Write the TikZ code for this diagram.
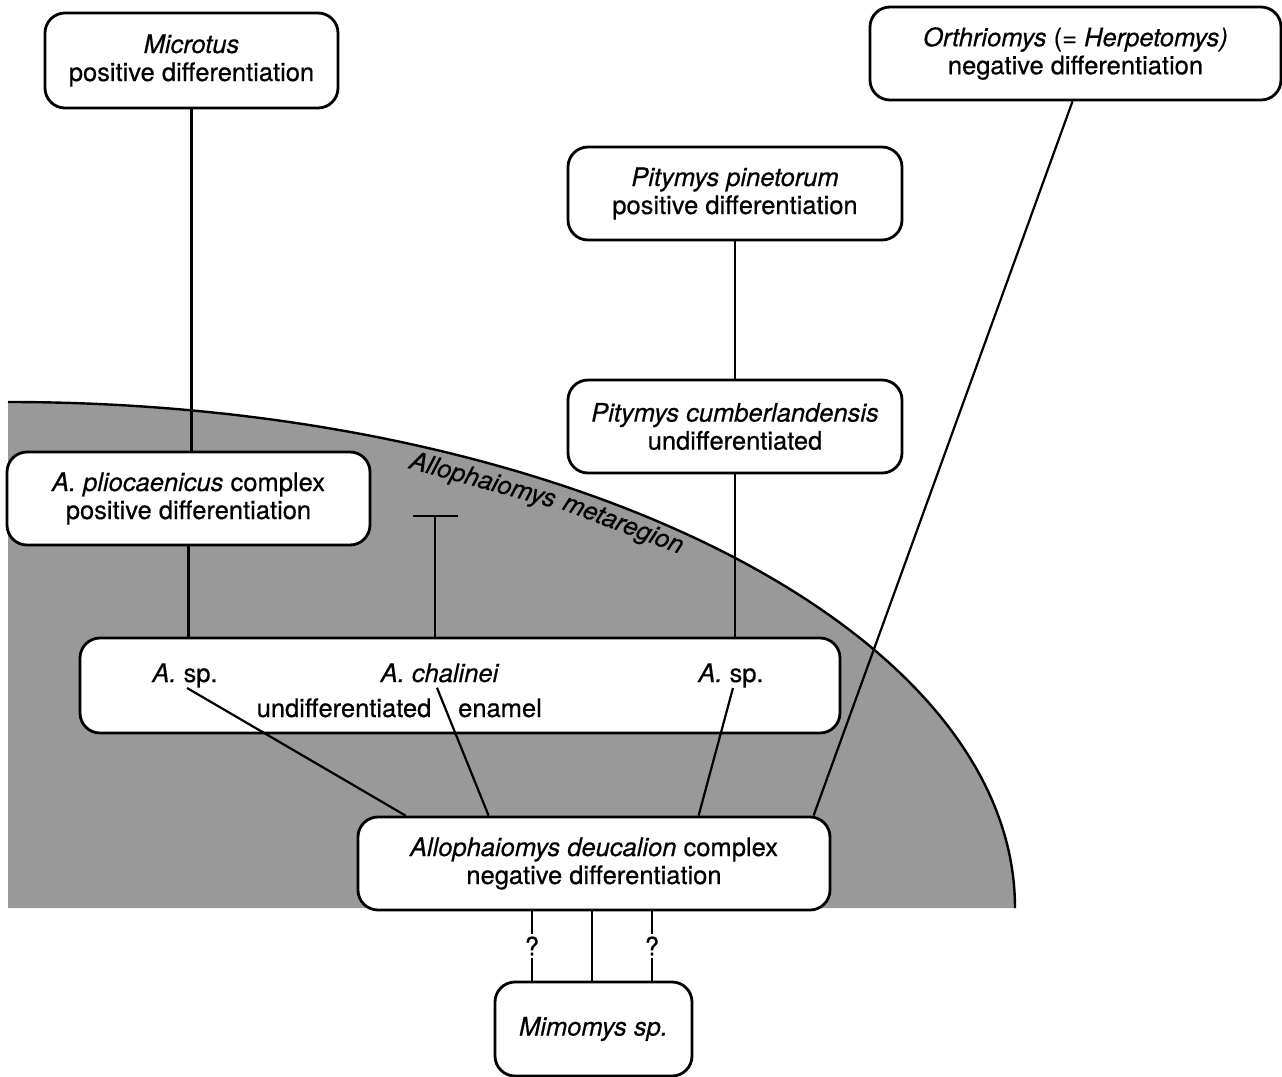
\documentclass[tikz,border=0pt]{standalone}
\usepackage{fontspec}
\setmainfont{TeX Gyre Heros}[UprightFeatures={FakeBold=0.5},ItalicFeatures={FakeBold=0.5}]
\usetikzlibrary{calc}
\newcommand{\fsz}{\fontsize{12.75}{14}\selectfont}
\begin{document}
\begin{tikzpicture}[x=0.5pt,y=0.5pt,
  box/.style={draw, line width=1.4pt, rounded corners=10pt, fill=white,
    align=center, font=\fsz, inner sep=0pt},
  link/.style={line width=1.1pt},
  lbl/.style={font=\fsz, inner sep=0pt},
  region/.style={font=\fsz\itshape, inner sep=0pt, anchor=base west},
  qm/.style={font=\fsz, fill=white, inner sep=1.5pt}]
\useasboundingbox (0,0) rectangle (1282,-1077);

% shaded metaregion
\fill[black!40] (8,-908) -- (8,-402)
  arc[start angle=90, end angle=0, x radius=1007, y radius=506] -- cycle;
\draw[line width=1.2pt] (8,-402)
  arc[start angle=90, end angle=0, x radius=1007, y radius=506];
\node[region, rotate=-15.3] (reg1) at (408,-468) {Allophaiomys};
\node[region, rotate=-20.8] (reg2) at (561,-509) {metaregion};

% boxes
\node[box, minimum width=146.5pt, minimum height=47.5pt] (micro) at (191.5,-60.5)
  {\textit{Microtus}\\positive differentiation};
\node[box, minimum width=205.5pt, minimum height=46.5pt] (orth) at (1075.5,-53.5)
  {\textit{Orthriomys} (= \textit{Herpetomys)}\\negative differentiation};
\node[box, minimum width=167pt, minimum height=46.5pt] (pine) at (735,-193.5)
  {\textit{Pitymys pinetorum}\\positive differentiation};
\node[box, minimum width=167pt, minimum height=46.5pt] (cumb) at (735,-426.5)
  {\textit{Pitymys cumberlandensis}\\undifferentiated};
\node[box, minimum width=181.5pt, minimum height=46.5pt] (plio) at (188.5,-498.5)
  {\textit{A. pliocaenicus} complex\\positive differentiation};
\node[box, minimum width=380pt, minimum height=47.5pt] (big) at (460,-685.5) {};
\node[box, minimum width=236pt, minimum height=46.5pt] (deuc) at (594,-863.5)
  {\textit{Allophaiomys deucalion} complex\\negative differentiation};
\node[box, minimum width=98.5pt, minimum height=47pt] (mimo) at (593.5,-1029)
  {\textit{Mimomys sp.}};

% texts in the big box
\node[lbl, anchor=base] (asp1) at (185,-682) {\textit{A.} sp.};
\node[lbl, anchor=base] (chal) at (440,-682) {\textit{A. chalinei}};
\node[lbl, anchor=base] (asp2) at (731,-682) {\textit{A.} sp.};
\node[lbl, anchor=base] (undiff) at (344,-717) {undifferentiated};
\node[lbl, anchor=base] (enamel) at (500,-717) {enamel};

% vertical connectors
\draw[link] (micro.south) -- (micro.south |- plio.north);
\draw[link] (plio.south) -- (plio.south |- big.north);
\draw[link] (pine.south) -- (pine.south |- cumb.north);
\draw[link] (cumb.south) -- (cumb.south |- big.north);

% T-shaped mark
\coordinate (tl) at (413,-516);
\coordinate (tr) at (458,-516);
\coordinate (tm) at (435,-516);
\draw[link] (tl) -- (tr);
\draw[link] (tm) -- (tm |- big.north);

% slanted connectors
\draw[link] ($(orth.south)+(-3,0)$) -- ($(deuc.north west)+(457,0)$);
\draw[link] ($(asp1.south)+(2,0)$) -- ($(deuc.north west)+(49,0)$);
\draw[link] ($(chal.south)+(-3,-5)$) -- ($(deuc.north west)+(132,0)$);
\draw[link] ($(asp2.south)+(2,0)$) -- ($(deuc.north west)+(342,0)$);

% bottom connectors
\coordinate (bl) at ($(deuc.south)+(-62,0)$);
\coordinate (bm) at ($(deuc.south)+(-2,0)$);
\coordinate (br) at ($(deuc.south)+(58,0)$);
\draw[link] (bl) -- (bl |- mimo.north) node[qm, midway] (q1) {?};
\draw[link] (bm) -- (bm |- mimo.north);
\draw[link] (br) -- (br |- mimo.north) node[qm, midway] (q2) {?};
\end{tikzpicture}
\end{document}
